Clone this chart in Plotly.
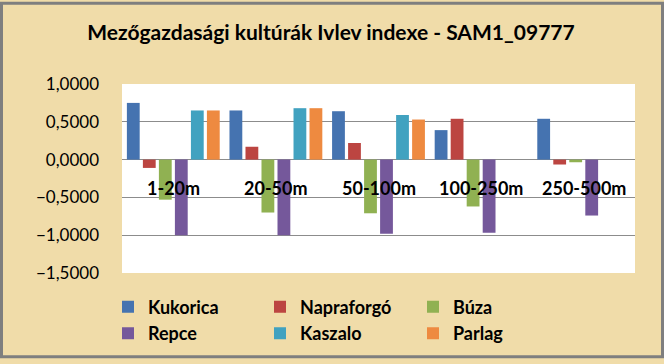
import plotly.graph_objects as go

categories = ["1-20m", "20-50m", "50-100m", "100-250m", "250-500m"]
series_names = ["Kukorica", "Napraforgó", "Búza", "Repce", "Kaszalo", "Parlag"]
kukorica = [0.75, 0.65, 0.64, 0.39, 0.54]
napraforgo = [-0.11, 0.17, 0.22, 0.54, -0.065]
buza = [-0.53, -0.70, -0.71, -0.62, -0.035]
repce = [-1.0, -1.0, -0.98, -0.966, -0.74]
kaszalo = [0.65, 0.68, 0.59, None, None]
parlag = [0.65, 0.68, 0.53, None, None]
colors = ["#4573B0", "#BC4541", "#90B152", "#75589B", "#41A2C0", "#EE8A40"]
y_ticks = [1.0, 0.5, 0.0, -0.5, -1.0, -1.5]
title = "Mezőgazdasági kultúrák Ivlev indexe - SAM1_09777"

W, H = 664, 364
L, R, T, B = 122, 29, 84, 87
pw, ph = W - L - R, H - T - B

# legend column for each series (3 columns, 2 rows)
legend_ids = ["legend", "legend2", "legend3", "legend", "legend2", "legend3"]

fig = go.Figure()
for name, vals, col, lg in zip(series_names,
                               [kukorica, napraforgo, buza, repce, kaszalo, parlag],
                               colors, legend_ids):
    fig.add_trace(go.Bar(x=categories, y=vals, name="<b>%s</b>" % name,
                         marker_color=col, marker_line_width=0, legend=lg))

annotations = [dict(x=c, y=0, xref="x", yref="y", text="<b>%s</b>" % c, showarrow=False,
                    yanchor="middle", yshift=-28,
                    font=dict(family="Lato", size=18, color="#000000")) for c in categories]

def legend_at(px):
    return dict(orientation="v", x=(px - L) / pw, xanchor="left",
                y=-(293 - T - ph) / ph, yanchor="top",
                bgcolor="rgba(0,0,0,0)", traceorder="normal",
                font=dict(family="Lato", size=18, color="#000000"))

bx = 1.5
fig.update_layout(
    width=W, height=H,
    margin=dict(l=L, r=R, t=T, b=B),
    paper_bgcolor="#F0DCA9",
    plot_bgcolor="#FFFFFF",
    separators=",.",
    barmode="group", bargap=0.064, bargroupgap=0.2,
    title=dict(text="<b>%s</b>" % title, x=331 / W, xanchor="center",
               y=1 - 33 / H, yanchor="middle", yref="container",
               font=dict(family="Lato", size=21, color="#000000")),
    xaxis=dict(showticklabels=False, showgrid=False, ticks="", showline=False,
               zeroline=False),
    yaxis=dict(range=[-1.5, 1.0], tickvals=y_ticks, tickformat=".4f",
               showgrid=True, gridcolor="#8C8C8C", gridwidth=1,
               zeroline=True, zerolinecolor="#8C8C8C", zerolinewidth=1,
               ticks="", ticklabelstandoff=22,
               tickfont=dict(family="Lato", size=17, color="#000000")),
    legend=legend_at(108),
    legend2=legend_at(260),
    legend3=legend_at(413),
    annotations=annotations,
    shapes=[dict(type="rect", xref="paper", yref="paper",
                 x0=-(L - bx) / pw, x1=1 + (R - bx) / pw,
                 y0=-(B - bx) / ph, y1=1 + (T - bx) / ph,
                 line=dict(color="#7F7F7F", width=3), layer="below")],
    showlegend=True,
)
fig.write_html("out.html", config={"displayModeBar": False},
               post_script="document.body.style.margin='0';")
